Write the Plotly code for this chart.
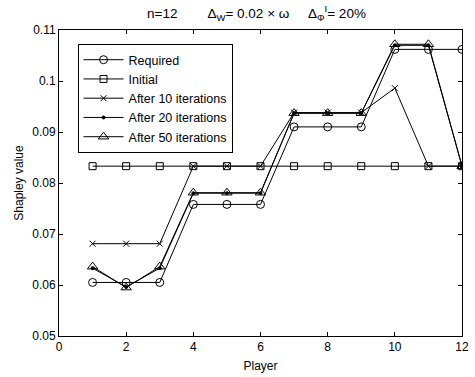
import plotly.graph_objects as go

players = list(range(1, 13))
required = [0.0605, 0.0605, 0.0605, 0.0758, 0.0758, 0.0758, 0.0910, 0.0910, 0.0910, 0.1062, 0.1062, 0.1062]
initial = [0.0833] * 12
after10 = [0.0681, 0.0681, 0.0681, 0.0833, 0.0833, 0.0833, 0.0938, 0.0938, 0.0938, 0.0986, 0.0833, 0.0833]
after20 = [0.0633, 0.0596, 0.0633, 0.0780, 0.0780, 0.0780, 0.0937, 0.0937, 0.0937, 0.1070, 0.1070, 0.0833]
after50 = [0.0636, 0.0595, 0.0636, 0.0781, 0.0781, 0.0781, 0.0937, 0.0937, 0.0937, 0.1072, 0.1072, 0.0833]

series = [
    ("Required", required, "circle-open", 8),
    ("Initial", initial, "square-open", 7),
    ("After 10 iterations", after10, "x-thin-open", 6),
    ("After 20 iterations", after20, "circle", 3),
    ("After 50 iterations", after50, "triangle-up-open", 9),
]

fig = go.Figure()
for name, vals, sym, sz in series:
    fig.add_trace(go.Scatter(
        x=players, y=vals, name=name, mode="lines+markers",
        line=dict(color="black", width=1),
        marker=dict(symbol=sym, size=sz, color="black", line=dict(color="black", width=1)),
    ))

font = "Liberation Sans, Arial, Helvetica, sans-serif"
nb = "\u00a0"
title = ("n=12" + nb * 8 + "Δ<sub>W</sub>= 0.02 × ω" + nb * 5 + "Δ<sub>Φ</sub><sup>I</sup>= 20%")

fig.update_layout(
    width=475, height=377,
    margin=dict(l=59, r=6, t=30, b=41),
    paper_bgcolor="white", plot_bgcolor="white",
    font=dict(family=font, size=12, color="black"),
    title=dict(text=title, x=0.54, xanchor="center", y=0.965, yanchor="middle",
               font=dict(family=font, size=13.5, color="black")),
    showlegend=True,
    legend=dict(x=0.046, y=0.954, xanchor="left", yanchor="top",
                bordercolor="black", borderwidth=1, bgcolor="white",
                font=dict(family=font, size=12.5, color="black"),
                tracegroupgap=0, itemwidth=40),
    xaxis=dict(range=[0, 12], tickvals=[0, 2, 4, 6, 8, 10, 12],
               ticks="inside", ticklen=4, tickcolor="black",
               showline=True, linecolor="black", linewidth=1, mirror="ticks",
               showgrid=False, zeroline=False, ticklabeloverflow="allow",
               title=dict(text="Player", standoff=8, font=dict(size=12)),
               tickfont=dict(size=12)),
    yaxis=dict(range=[0.05, 0.11],
               tickvals=[0.05, 0.06, 0.07, 0.08, 0.09, 0.1, 0.11],
               ticktext=["0.05", "0.06", "0.07", "0.08", "0.09", "0.1", "0.11"],
               ticks="inside", ticklen=4, tickcolor="black",
               showline=True, linecolor="black", linewidth=1, mirror="ticks",
               showgrid=False, zeroline=False,
               title=dict(text="Shapley value", standoff=6, font=dict(size=12)),
               tickfont=dict(size=12)),
)

fig.write_html("out.html")
